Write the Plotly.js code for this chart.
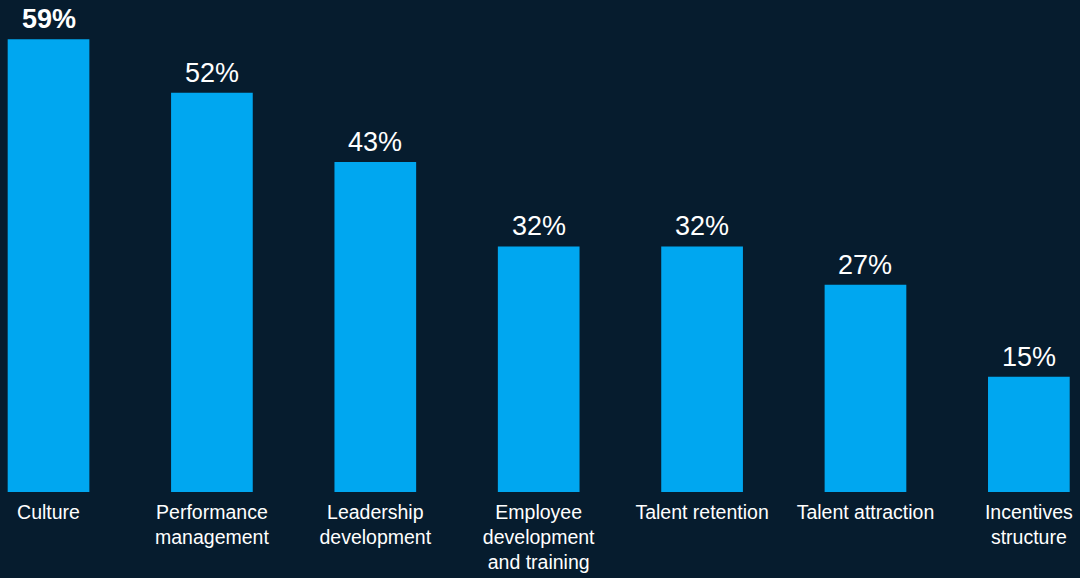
<!DOCTYPE html>
<html>
<head>
<meta charset="utf-8">
<script src="https://cdn.plot.ly/plotly-3.0.1.min.js"></script>
<style>
html,body{margin:0;padding:0;background:#061c2e;}
#chart{width:1080px;height:578px;}
</style>
</head>
<body>
<div id="chart"></div>
<script>
const categories = ["Culture", "Performance<br>management", "Leadership<br>development", "Employee<br>development<br>and training", "Talent retention", "Talent attraction", "Incentives<br>structure"];
const values = [59, 52, 43, 32, 32, 27, 15];
const valueLabels = ["<b>59%</b>", "52%", "43%", "32%", "32%", "27%", "15%"];

const bg = "#061c2e";
const barColor = "#00a7f0";
const font = "Liberation Sans, Arial, sans-serif";

const trace = {
  type: "bar",
  x: categories,
  y: values,
  width: 0.5,
  marker: {color: barColor, line: {width: 0}},
  hoverinfo: "skip"
};

const annotations = categories.map((c, i) => ({
  x: c, y: values[i], xref: "x", yref: "y",
  text: valueLabels[i], showarrow: false,
  yanchor: "bottom", yshift: 3,
  font: {family: font, size: 27, color: "#ffffff"}
}));

const layout = {
  width: 1080, height: 578,
  paper_bgcolor: bg, plot_bgcolor: bg,
  margin: {l: 0, r: 0, t: 0, b: 86, pad: 0},
  showlegend: false,
  bargap: 0.5,
  xaxis: {
    type: "category",
    range: [-0.297, 6.313],
    showgrid: false, zeroline: false, showline: false,
    ticks: "", ticklen: 0, ticklabelstandoff: 6,
    tickfont: {family: font, size: 19.5, color: "#ffffff"},
    fixedrange: true
  },
  yaxis: {
    range: [0, 64.1],
    showgrid: false, zeroline: false, showline: false,
    showticklabels: false, ticks: "",
    fixedrange: true
  },
  annotations: annotations
};

Plotly.newPlot("chart", [trace], layout, {displayModeBar: false, staticPlot: true});
</script>
</body>
</html>
